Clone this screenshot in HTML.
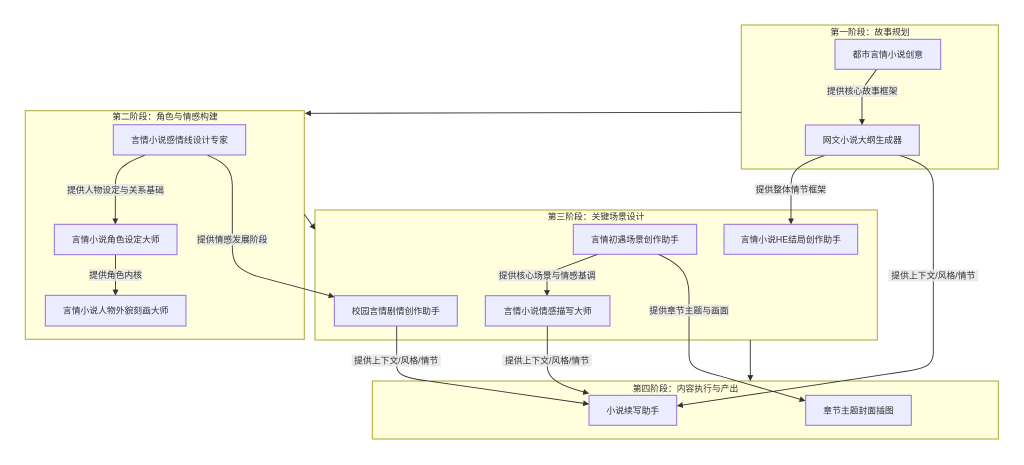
<!DOCTYPE html>
<html>
<head>
<meta charset="utf-8">
<style>
  html,body{margin:0;padding:0;background:#ffffff;}
  svg{display:block;}
  text{font-family:"Liberation Sans","Noto Sans CJK SC",sans-serif;font-size:8.8px;fill:#333333;}
  .cl{fill:#ffffde;stroke:#aaaa33;stroke-width:1;}
  .nd{fill:#ececff;stroke:#9370db;stroke-width:1;}
  .ed{fill:none;stroke:#333333;stroke-width:0.9;}
  .lb{fill:#e8e8e8;opacity:0.85;}
</style>
</head>
<body>
<svg width="1024" height="465" viewBox="0 0 1024 465" xmlns="http://www.w3.org/2000/svg">
  <defs>
    <marker id="ah" viewBox="0 0 10 10" refX="9" refY="5" markerWidth="6" markerHeight="6" markerUnits="userSpaceOnUse" orient="auto">
      <path d="M0,0 L10,5 L0,10 z" fill="#333333"/>
    </marker>
  </defs>

  <!-- clusters -->
  <rect class="cl" x="741.3" y="25" width="257" height="144"/>
  <rect class="cl" x="25.3" y="110.7" width="279" height="228.6"/>
  <rect class="cl" x="315" y="210" width="562.3" height="130"/>
  <rect class="cl" x="372.3" y="381" width="626" height="58"/>

  <text x="870" y="32" text-anchor="middle" dominant-baseline="central">第一阶段：故事规划</text>
  <text x="165" y="116.7" text-anchor="middle" dominant-baseline="central">第二阶段：角色与情感构建</text>
  <text x="596" y="216.7" text-anchor="middle" dominant-baseline="central">第三阶段：关键场景设计</text>
  <text x="685.5" y="388.3" text-anchor="middle" dominant-baseline="central">第四阶段：内容执行与产出</text>

  <!-- edges -->
  <path class="ed" d="M876.7,69.3 L866,84 Q862,90 862,97 L862,124.5" marker-end="url(#ah)"/>
  <path class="ed" d="M741.3,112.3 L305.5,113.3" marker-end="url(#ah)"/>
  <path class="ed" d="M825,155.3 C797,165 791,171 791,186 L791,223.8" marker-end="url(#ah)"/>
  <path class="ed" d="M899.3,155.3 C926,164 933.3,171 933.3,186 L933.3,352 C933.3,365 926,368 908,371 L677.5,405.8" marker-end="url(#ah)"/>
  <path class="ed" d="M145.7,155 C121,164 115.3,171 115.3,186 L115.3,223.8" marker-end="url(#ah)"/>
  <path class="ed" d="M115.5,254.7 L115.5,295" marker-end="url(#ah)"/>
  <path class="ed" d="M206.7,155 C227,163 232.3,171 232.3,186 L232.3,247 C232.3,263 237,269 256,276 L334,296.8" marker-end="url(#ah)"/>
  <path class="ed" d="M304.3,214.3 L315,229.3" marker-end="url(#ah)"/>
  <path class="ed" d="M597.7,254.3 L561,268 Q547,273 547,281 L547,295.5" marker-end="url(#ah)"/>
  <path class="ed" d="M658.3,254.3 C683,265 689,276 689,296 L689,354 C689,367 696,370 720,376 L805,400.7" marker-end="url(#ah)"/>
  <path class="ed" d="M750.3,340 L750.3,380.5" marker-end="url(#ah)"/>
  <path class="ed" d="M396.7,326 L396.7,366 C396.7,374 404,377 418,379.5 L588.5,404" marker-end="url(#ah)"/>
  <path class="ed" d="M547.3,326 L547.3,366 C547.3,379 560,386 588.5,393.3" marker-end="url(#ah)"/>

  <!-- edge labels -->
  <rect class="lb" x="826.7" y="85" width="71" height="12"/>
  <text x="862.2" y="91" text-anchor="middle" dominant-baseline="central">提供核心故事框架</text>

  <rect class="lb" x="755" y="183.5" width="71.5" height="12"/>
  <text x="790.8" y="189.5" text-anchor="middle" dominant-baseline="central">提供整体情节框架</text>

  <rect class="lb" x="888.3" y="269.5" width="90" height="12"/>
  <text x="933.3" y="275.5" text-anchor="middle" dominant-baseline="central">提供上下文/风格/情节</text>

  <rect class="lb" x="66.7" y="184" width="97.6" height="12"/>
  <text x="115.5" y="190" text-anchor="middle" dominant-baseline="central">提供人物设定与关系基础</text>

  <rect class="lb" x="89" y="269" width="53.3" height="12"/>
  <text x="115.6" y="275" text-anchor="middle" dominant-baseline="central">提供角色内核</text>

  <rect class="lb" x="196.7" y="233.5" width="71" height="12"/>
  <text x="232.2" y="239.5" text-anchor="middle" dominant-baseline="central">提供情感发展阶段</text>

  <rect class="lb" x="498.3" y="269.3" width="97.7" height="12"/>
  <text x="547.2" y="275.3" text-anchor="middle" dominant-baseline="central">提供核心场景与情感基调</text>

  <rect class="lb" x="649" y="304.5" width="80" height="12"/>
  <text x="689" y="310.5" text-anchor="middle" dominant-baseline="central">提供章节主题与画面</text>

  <rect class="lb" x="351.7" y="354.5" width="89" height="12"/>
  <text x="396.2" y="360.5" text-anchor="middle" dominant-baseline="central">提供上下文/风格/情节</text>

  <rect class="lb" x="502.3" y="354.5" width="89.4" height="12"/>
  <text x="547" y="360.5" text-anchor="middle" dominant-baseline="central">提供上下文/风格/情节</text>

  <!-- nodes -->
  <rect class="nd" x="835" y="39.3" width="105.7" height="30"/>
  <text x="887.8" y="54.3" text-anchor="middle" dominant-baseline="central">都市言情小说创意</text>

  <rect class="nd" x="805.3" y="125" width="114" height="30.3"/>
  <text x="862.3" y="140.2" text-anchor="middle" dominant-baseline="central">网文小说大纲生成器</text>

  <rect class="nd" x="113.3" y="124.7" width="132.4" height="30.3"/>
  <text x="179.5" y="139.9" text-anchor="middle" dominant-baseline="central">言情小说感情线设计专家</text>

  <rect class="nd" x="54.3" y="224.3" width="122.7" height="30.4"/>
  <text x="115.7" y="239.5" text-anchor="middle" dominant-baseline="central">言情小说角色设定大师</text>

  <rect class="nd" x="45.3" y="295.3" width="140.7" height="30.7"/>
  <text x="115.7" y="310.7" text-anchor="middle" dominant-baseline="central">言情小说人物外貌刻画大师</text>

  <rect class="nd" x="573.3" y="224.3" width="123.4" height="30"/>
  <text x="635" y="239.3" text-anchor="middle" dominant-baseline="central">言情初遇场景创作助手</text>

  <rect class="nd" x="724" y="224.3" width="133.7" height="30"/>
  <text x="790.8" y="239.3" text-anchor="middle" dominant-baseline="central">言情小说HE结局创作助手</text>

  <rect class="nd" x="334.3" y="295.7" width="123" height="30.3"/>
  <text x="395.8" y="310.9" text-anchor="middle" dominant-baseline="central">校园言情剧情创作助手</text>

  <rect class="nd" x="485.3" y="295.7" width="124.7" height="30.3"/>
  <text x="547.7" y="310.9" text-anchor="middle" dominant-baseline="central">言情小说情感描写大师</text>

  <rect class="nd" x="589" y="395.3" width="87.7" height="30"/>
  <text x="632.8" y="410.3" text-anchor="middle" dominant-baseline="central">小说续写助手</text>

  <rect class="nd" x="805.7" y="395.3" width="105.6" height="30"/>
  <text x="858.5" y="410.3" text-anchor="middle" dominant-baseline="central">章节主题封面插图</text>
</svg>
</body>
</html>
